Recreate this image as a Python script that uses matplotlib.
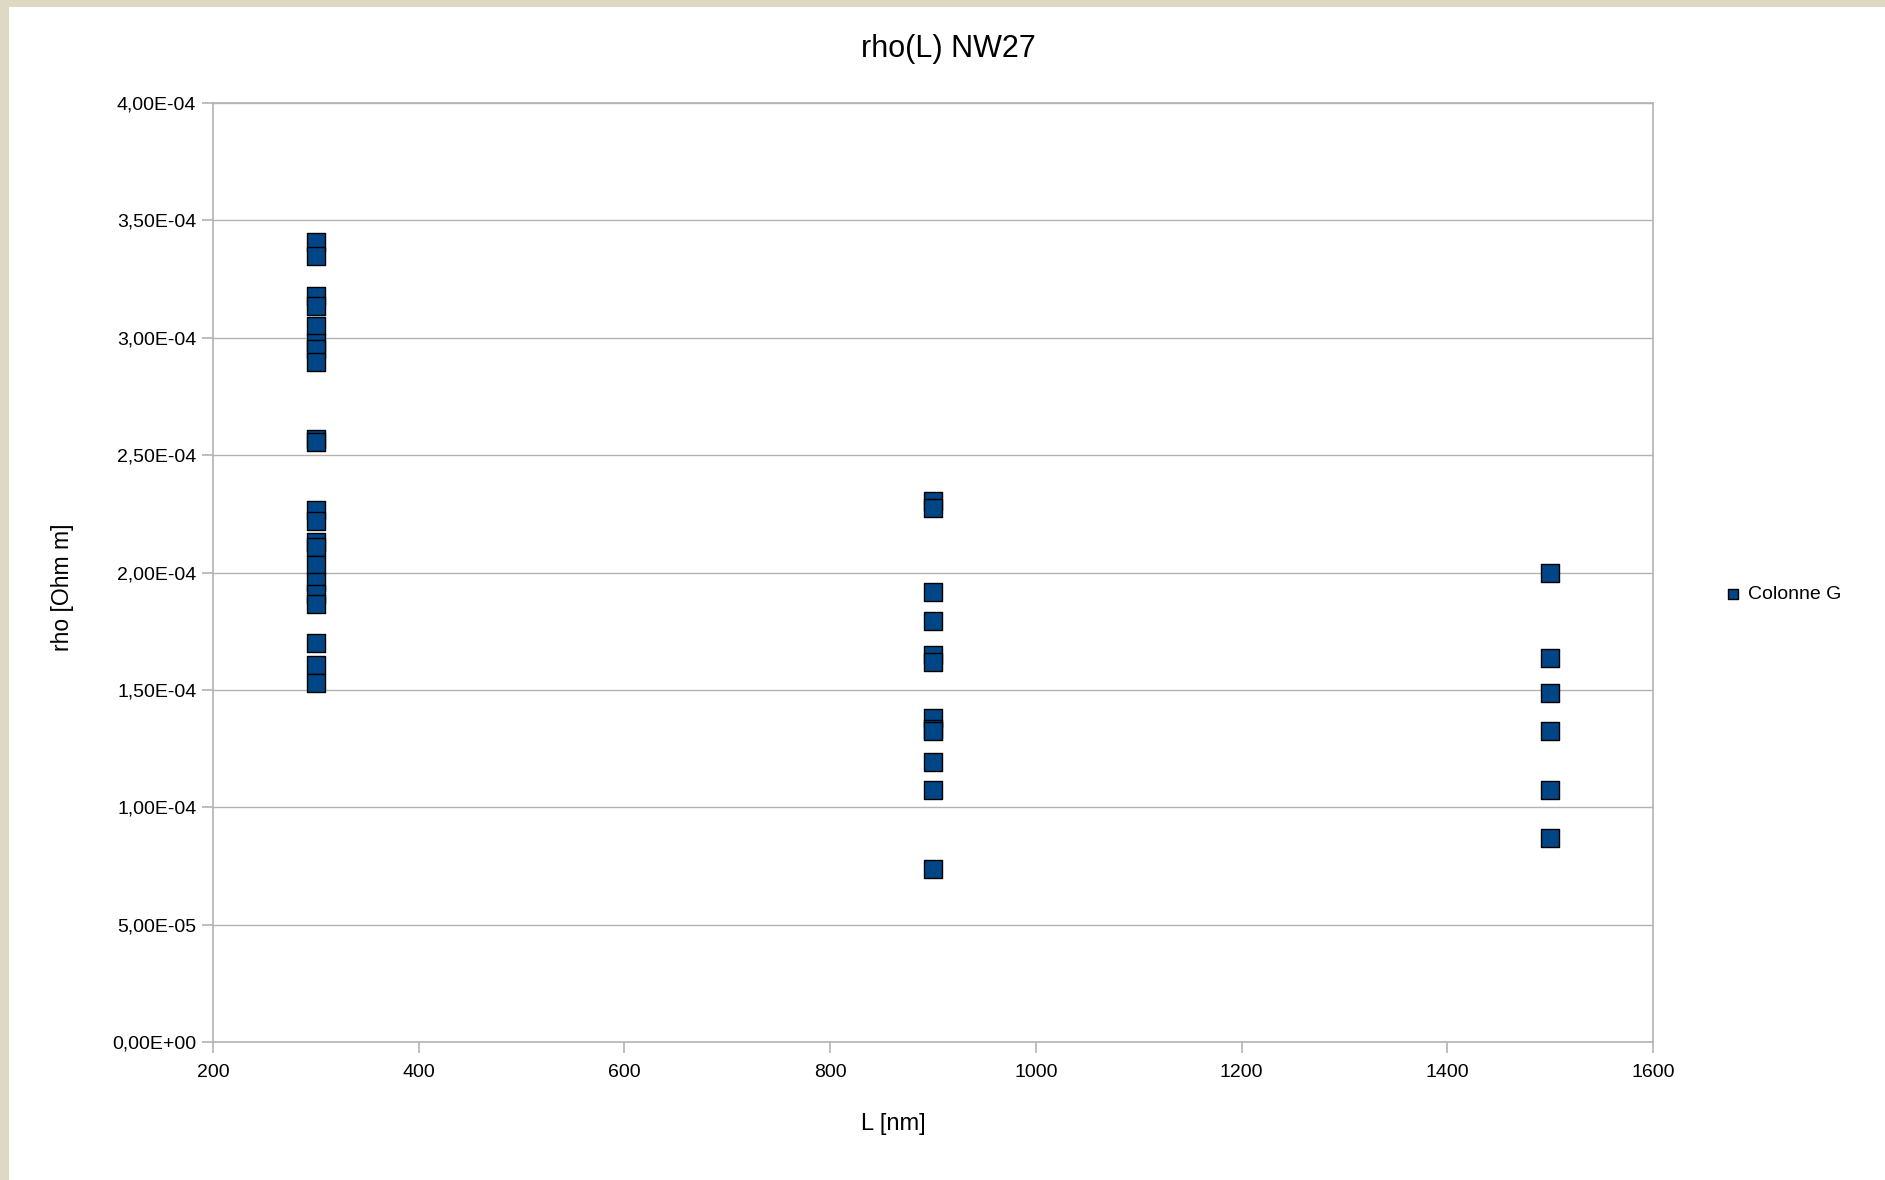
import matplotlib
matplotlib.use("Agg")
import matplotlib.pyplot as plt
from matplotlib.ticker import FuncFormatter, MultipleLocator
from matplotlib.patches import Rectangle

plt.rcParams['font.family'] = ['Liberation Sans', 'DejaVu Sans']

# Data (L in nm, rho in units of 1e-4 Ohm m)
rho_300 = [3.406, 3.349, 3.176, 3.135, 3.051, 2.976, 2.951, 2.895, 2.568, 2.554,
           2.266, 2.220, 2.128, 2.107, 2.031, 1.960, 1.908, 1.865, 1.700, 1.605, 1.531]
L_300 = [300] * len(rho_300)
rho_900 = [2.305, 2.273, 1.915, 1.794, 1.649, 1.620, 1.382, 1.335, 1.326, 1.194, 1.074, 0.739]
L_900 = [900] * len(rho_900)
rho_1500 = [2.000, 1.634, 1.485, 1.326, 1.074, 0.871]
L_1500 = [1500] * len(rho_1500)

L_all = L_300 + L_900 + L_1500
rho_all = [v * 1e-4 for v in rho_300 + rho_900 + rho_1500]

series_name = "Colonne G"
title = "rho(L) NW27"
xlabel = "L [nm]"
ylabel = "rho [Ohm m]"

fig = plt.figure(figsize=(18.85, 11.8), dpi=100)
fig.patch.set_facecolor('white')
# beige frame on top and left
fig.patches.append(Rectangle((0, 1 - 7 / 1180), 1, 7 / 1180, transform=fig.transFigure,
                             facecolor='#ddd9c3', edgecolor='none', zorder=0))
fig.patches.append(Rectangle((0, 0), 9 / 1885, 1, transform=fig.transFigure,
                             facecolor='#ddd9c3', edgecolor='none', zorder=0))

ax = fig.add_axes([213 / 1885, 1 - 1042 / 1180, (1653 - 213) / 1885, (1042 - 103) / 1180])
ax.scatter(L_all, rho_all, marker='s', s=13 ** 2, facecolor='#004586',
           edgecolor='black', linewidths=1.0, zorder=3, label=series_name)

ax.set_xlim(200, 1600)
ax.set_ylim(0, 4e-4)
ax.xaxis.set_major_locator(MultipleLocator(200))
ax.yaxis.set_major_locator(MultipleLocator(5e-5))

def yfmt(v, pos):
    s = "%.2E" % v
    return s.replace('.', ',')

ax.yaxis.set_major_formatter(FuncFormatter(yfmt))
ax.grid(axis='y', color='#b3b3b3', linewidth=1.0, zorder=0)
for sp in ax.spines.values():
    sp.set_color('#b3b3b3')
    sp.set_linewidth(1.2)
ax.tick_params(axis='both', colors='#b3b3b3', labelcolor='black', labelsize=14,
               length=8, width=1.2, direction='out')
ax.tick_params(axis='x', pad=8)
ax.tick_params(axis='y', pad=4)

fig.text(948 / 1885, 1 - 49 / 1180, title, ha='center', va='center', fontsize=22)
fig.text(893 / 1885, 1 - 1124 / 1180, xlabel, ha='center', va='center', fontsize=17)
fig.text(62 / 1885, 1 - 587 / 1180, ylabel, ha='center', va='center', fontsize=16.5, rotation=90)

leg = ax.legend(loc='center left', bbox_to_anchor=(1715 / 1885, 1 - 594 / 1180),
                bbox_transform=fig.transFigure, frameon=False, fontsize=14,
                markerscale=0.6, handletextpad=0.3, borderaxespad=0, handlelength=1.0)

fig.savefig("out.png", dpi=100, facecolor='white')
